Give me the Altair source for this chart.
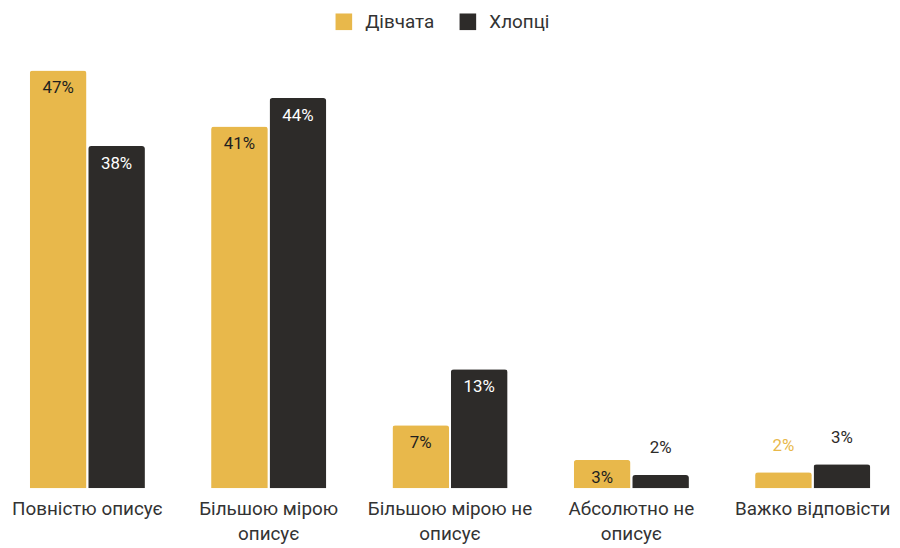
import altair as alt
import pandas as pd

categories = ["Повністю описує", "Більшою мірою описує", "Більшою мірою не описує",
              "Абсолютно не описує", "Важко відповісти"]
series = ["Дівчата", "Хлопці"]
girls = [47.0, 40.7, 7.1, 3.2, 1.8]
boys = [38.5, 43.9, 13.4, 1.5, 2.7]
girls_labels = ["47%", "41%", "7%", "3%", "2%"]
boys_labels = ["38%", "44%", "13%", "2%", "3%"]

colors = ["#E8B84B", "#2D2B29"]

rows = []
for i, c in enumerate(categories):
    rows.append({"cat": c, "series": series[0], "value": girls[i], "label": girls_labels[i]})
    rows.append({"cat": c, "series": series[1], "value": boys[i], "label": boys_labels[i]})
df = pd.DataFrame(rows)

FONT = "Roboto"

x = alt.X("cat:N", sort=categories, title=None,
          scale=alt.Scale(paddingInner=0.365, paddingOuter=0.12),
          axis=alt.Axis(labelAngle=0, domain=False, ticks=False, grid=False, labelFontSize=19,
                        labelColor="#333333", labelFont=FONT, labelPadding=11,
                        labelBaseline="top", labelLineHeight=26, labelLimit=300,
                        labelExpr="length(datum.label) > 16 ? [substring(datum.label, 0, lastindexof(datum.label, ' ')), 'описує'] : datum.label"))
xo = alt.XOffset("series:N", sort=series, scale=alt.Scale(paddingInner=0.03, paddingOuter=0))
y = alt.Y("value:Q", scale=alt.Scale(domain=[0, 50]), axis=None, title=None)

base = alt.Chart(df).encode(x=x, xOffset=xo, y=y)

bars = base.mark_bar(cornerRadiusTopLeft=3, cornerRadiusTopRight=3).encode(
    color=alt.Color("series:N", sort=series,
                    scale=alt.Scale(domain=series, range=colors),
                    legend=alt.Legend(title=None, orient="none", direction="horizontal",
                                      legendX=329, legendY=-32, symbolType="square",
                                      symbolSize=280, symbolStrokeWidth=0,
                                      labelFontSize=19, labelFont=FONT, labelColor="#333333",
                                      labelOffset=12, columnPadding=24))
)

inside = base.transform_filter("datum.value >= 3").transform_calculate(
    tc="datum.series == 'Дівчата' ? '#1f1f1f' : '#ffffff'"
).mark_text(baseline="top", dy=10, fontSize=17, font=FONT).encode(
    text="label:N", color=alt.Color("tc:N", scale=None)
)

outside = base.transform_filter("datum.value < 3").transform_calculate(
    tc="datum.series == 'Дівчата' ? '#E8B84B' : '#2D2B29'"
).mark_text(baseline="alphabetic", dy=-22, fontSize=17, font=FONT).encode(
    text="label:N", color=alt.Color("tc:N", scale=None)
)

chart = alt.layer(bars, inside, outside).properties(
    width=891, height=448,
    autosize=alt.AutoSizeParams(type="none"),
    padding={"left": 0, "top": 34, "right": 0, "bottom": 60},
).configure(font=FONT).configure_view(strokeWidth=0, stroke="transparent")

chart.save("out.html", embed_options={"renderer": "svg", "actions": False})
